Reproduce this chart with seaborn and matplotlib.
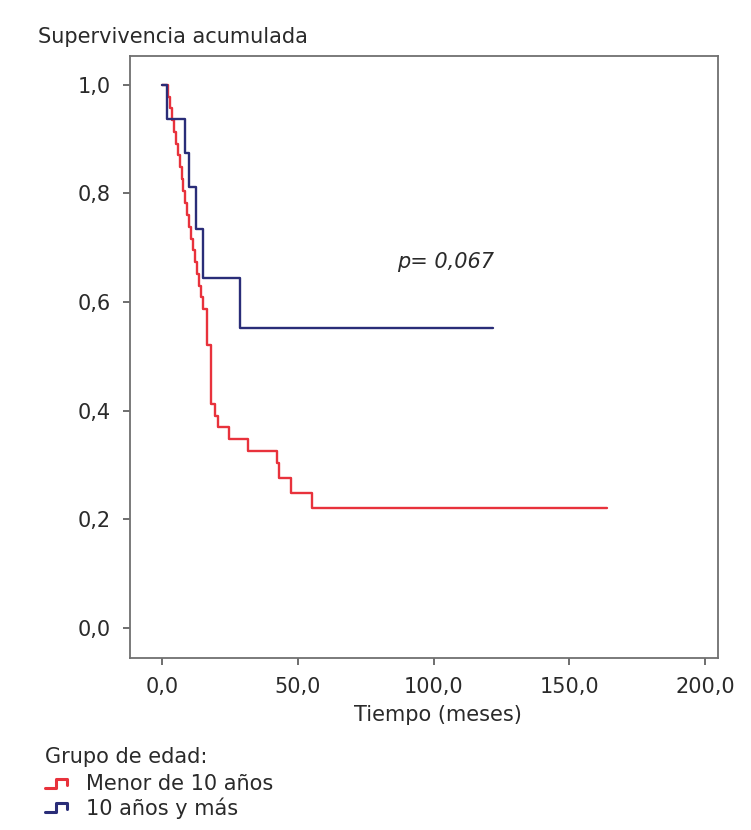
import numpy as np
import pandas as pd
import matplotlib
matplotlib.use("Agg")
import matplotlib.pyplot as plt
import seaborn as sns
from matplotlib.lines import Line2D
from matplotlib.legend_handler import HandlerBase
from matplotlib.ticker import FuncFormatter

# ---- data ----
red_time = [0, 2.2, 3.0, 3.8, 4.5, 5.2, 5.9, 6.6, 7.2, 7.9, 8.6, 9.3, 10.0, 10.7,
            11.4, 12.1, 12.8, 13.5, 14.2, 15.2, 16.5, 17.9, 19.5, 20.7, 24.8,
            31.8, 42.2, 43.2, 47.4, 55.1, 163.9]
red_surv = [1.0, 0.978, 0.957, 0.935, 0.913, 0.891, 0.870, 0.848, 0.826, 0.804,
            0.783, 0.761, 0.739, 0.717, 0.696, 0.674, 0.652, 0.630, 0.609, 0.587,
            0.522, 0.413, 0.391, 0.370, 0.348, 0.326, 0.304, 0.276, 0.249, 0.221,
            0.221]
blue_time = [0, 1.7, 8.5, 10.1, 12.5, 15.0, 28.7, 121.9]
blue_surv = [1.0, 0.9375, 0.875, 0.8125, 0.734, 0.644, 0.552, 0.552]
groups = ["Menor de 10 años", "10 años y más"]
colors = ["#e8323c", "#2a2d78"]
x_ticks = [0, 50, 100, 150, 200]
y_ticks = [0.0, 0.2, 0.4, 0.6, 0.8, 1.0]
p_text = "p= 0,067"

df = pd.concat([
    pd.DataFrame({"t": red_time, "s": red_surv, "g": groups[0]}),
    pd.DataFrame({"t": blue_time, "s": blue_surv, "g": groups[1]}),
], ignore_index=True)

sns.set_theme(style="white")
plt.rcParams["font.family"] = ["DejaVu Sans"]

FS = 15
TXT = "#2a2a2a"

fig = plt.figure(figsize=(7.51, 8.30), dpi=100)
ax = fig.add_axes([130/751, 1-658/830, (718-130)/751, (658-56)/830])

sns.lineplot(data=df, x="t", y="s", hue="g", palette=dict(zip(groups, colors)),
             estimator=None, sort=False, drawstyle="steps-post", linewidth=1.7,
             legend=False, ax=ax)

ax.set_xlim(-11.8, 204.8)
ax.set_ylim(-0.055, 1.053)
ax.set_xticks(x_ticks)
ax.set_yticks(y_ticks)
fmt = FuncFormatter(lambda v, pos: f"{v:.1f}".replace(".", ","))
ax.xaxis.set_major_formatter(fmt)
ax.yaxis.set_major_formatter(fmt)
ax.tick_params(axis="both", which="major", direction="out", length=5, width=1.2,
               color="#555555", labelsize=FS, labelcolor=TXT, pad=9,
               bottom=True, left=True)
for sp in ax.spines.values():
    sp.set_color("#707070")
    sp.set_linewidth(1.3)

ax.set_xlabel("Tiempo (meses)", fontsize=FS, color=TXT)
ax.xaxis.set_label_coords((438-130)/588, -(715-658)/602)
ax.xaxis.label.set_va("center")
ax.set_ylabel("")
fig.text(38/751, 1-37/830, "Supervivencia acumulada", fontsize=FS,
         color=TXT, ha="left", va="center")

ax.text(104.6, 0.674, p_text, fontsize=FS, style="italic", color=TXT,
        ha="center", va="center")


class HandlerStep(HandlerBase):
    def create_artists(self, legend, orig_handle, xdescent, ydescent, width,
                       height, fontsize, trans):
        x0, y0 = -xdescent, -ydescent
        xs = [x0, x0 + 0.5*width, x0 + 0.5*width, x0 + width, x0 + width]
        ys = [y0 + 0.05*height, y0 + 0.05*height, y0 + 0.85*height,
              y0 + 0.85*height, y0 + 0.3*height]
        ln = Line2D(xs, ys, color=orig_handle.get_color(), linewidth=2.2,
                    transform=trans)
        return [ln]


fig.text(45/751, 1-757/830, "Grupo de edad:", fontsize=FS, color=TXT,
         ha="left", va="center")

handles = [Line2D([], [], color=c) for c in colors]
leg = fig.legend(handles, groups, handler_map={Line2D: HandlerStep()},
                 loc="upper left",
                 bbox_to_anchor=(45/751, 1-774/830), frameon=False,
                 fontsize=FS, handlelength=1.05,
                 handleheight=0.45, handletextpad=0.9, labelspacing=0.15,
                 borderaxespad=0, borderpad=0)
for t in leg.get_texts():
    t.set_color(TXT)

fig.savefig("out.png", dpi=100, facecolor="white")
